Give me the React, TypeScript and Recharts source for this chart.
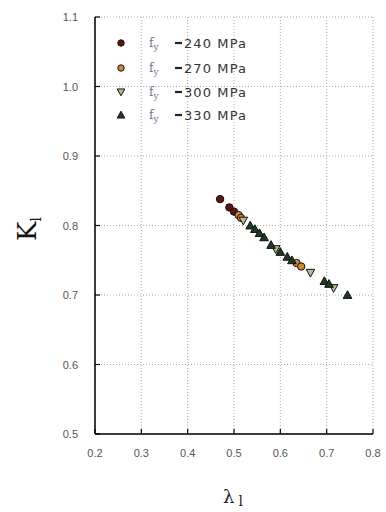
import React from "react";
import {
  CartesianGrid,
  Scatter,
  ScatterChart,
  XAxis,
  YAxis,
} from "recharts";

// slenderness λl vs. factor Kl, one list pair per steel grade
const lambda240 = [0.47, 0.49, 0.5];
const k240 = [0.838, 0.826, 0.82];
const lambda270 = [0.51, 0.515, 0.635, 0.645];
const k270 = [0.815, 0.811, 0.746, 0.741];
const lambda300 = [0.52, 0.59, 0.665, 0.715];
const k300 = [0.807, 0.766, 0.732, 0.71];
const lambda330 = [0.535, 0.545, 0.555, 0.565, 0.58, 0.6, 0.615, 0.625, 0.695, 0.705, 0.745];
const k330 = [0.8, 0.795, 0.789, 0.783, 0.772, 0.762, 0.755, 0.75, 0.72, 0.716, 0.7];

const xTicks = [0.2, 0.3, 0.4, 0.5, 0.6, 0.7, 0.8];
const yTicks = [0.5, 0.6, 0.7, 0.8, 0.9, 1.0, 1.1];
const grades = ["240", "270", "300", "330"];

const toPoints = (xs: number[], ys: number[]) => xs.map((x, i) => ({ x, y: ys[i] }));

type Kind = "circle" | "down" | "up";
const SERIES: { name: string; data: { x: number; y: number }[]; kind: Kind; fill: string }[] = [
  { name: grades[0], data: toPoints(lambda240, k240), kind: "circle", fill: "#5a1712" },
  { name: grades[1], data: toPoints(lambda270, k270), kind: "circle", fill: "#c98a42" },
  { name: grades[2], data: toPoints(lambda300, k300), kind: "down", fill: "#b9b98c" },
  { name: grades[3], data: toPoints(lambda330, k330), kind: "up", fill: "#1f3a22" },
];

// legend row positions (px) inside the plot frame
const legendRows = [43, 68, 92, 115];

function Marker({ cx, cy, kind, fill, r = 3.7 }: { cx: number; cy: number; kind: Kind; fill: string; r?: number }) {
  if (kind === "circle")
    return <circle cx={cx} cy={cy} r={r} fill={fill} stroke="#1a0a08" strokeWidth={1} />;
  const s = r + 0.6;
  const pts =
    kind === "up"
      ? `${cx},${cy - s} ${cx + s},${cy + s * 0.8} ${cx - s},${cy + s * 0.8}`
      : `${cx - s},${cy - s * 0.8} ${cx + s},${cy - s * 0.8} ${cx},${cy + s}`;
  return <polygon points={pts} fill={fill} stroke="#111" strokeWidth={1} />;
}

const sans = "Arial, 'Liberation Sans', sans-serif";
const tickFont = { fontFamily: sans, fontSize: 11, fill: "#555" };

function BottomTick({ x, y, payload }: any) {
  return (
    <g>
      <line x1={x} y1={y} x2={x} y2={y - 5} stroke="#000" strokeWidth={1.2} />
      <text x={x} y={y + 23} textAnchor="middle" {...tickFont}>
        {Number(payload.value).toFixed(1)}
      </text>
    </g>
  );
}

function TopTick({ x, y }: any) {
  return <line x1={x} y1={y} x2={x} y2={y + 5} stroke="#000" strokeWidth={1.2} />;
}

function LeftTick({ x, y, payload }: any) {
  return (
    <g>
      <line x1={x} y1={y} x2={x + 5} y2={y} stroke="#000" strokeWidth={1.2} />
      <text x={x - 17} y={y + 4} textAnchor="end" {...tickFont}>
        {Number(payload.value).toFixed(1)}
      </text>
    </g>
  );
}

function RightTick({ x, y }: any) {
  return <line x1={x} y1={y} x2={x - 5} y2={y} stroke="#000" strokeWidth={1.2} />;
}

export default function App() {
  return (
    <div style={{ position: "absolute", left: 0, top: 0, width: 386, height: 512, background: "#fff" }}>
      <ScatterChart width={386} height={512} margin={{ top: 17, right: 13, bottom: 48, left: 55 }}>
        <CartesianGrid stroke="#aaa" strokeDasharray="1 2" xAxisId="b" yAxisId="l" />
        <XAxis
          xAxisId="b"
          type="number"
          dataKey="x"
          domain={[0.2, 0.8]}
          ticks={xTicks}
          height={30}
          tickSize={0}
          tickMargin={0}
          tickLine={false}
          axisLine={{ stroke: "#000", strokeWidth: 1.5 }}
          tick={<BottomTick />}
          allowDataOverflow
        />
        <XAxis
          xAxisId="t"
          orientation="top"
          type="number"
          domain={[0.2, 0.8]}
          ticks={xTicks}
          height={0}
          tickSize={0}
          tickMargin={0}
          tickLine={false}
          axisLine={{ stroke: "#000", strokeWidth: 1.5 }}
          tick={<TopTick />}
        />
        <YAxis
          yAxisId="l"
          type="number"
          dataKey="y"
          domain={[0.5, 1.1]}
          ticks={yTicks}
          width={40}
          tickSize={0}
          tickMargin={0}
          tickLine={false}
          axisLine={{ stroke: "#000", strokeWidth: 1.5 }}
          tick={<LeftTick />}
          allowDataOverflow
        />
        <YAxis
          yAxisId="r"
          orientation="right"
          type="number"
          domain={[0.5, 1.1]}
          ticks={yTicks}
          width={0}
          tickSize={0}
          tickMargin={0}
          tickLine={false}
          axisLine={{ stroke: "#000", strokeWidth: 1.5 }}
          tick={<RightTick />}
        />
        {SERIES.map((s) => (
          <Scatter
            key={s.name}
            name={s.name}
            data={s.data}
            xAxisId="b"
            yAxisId="l"
            isAnimationActive={false}
            shape={(p: any) => <Marker cx={p.cx} cy={p.cy} kind={s.kind} fill={s.fill} />}
          />
        ))}
        <g>
          {SERIES.map((s, i) => {
            const y = legendRows[i];
            return (
              <g key={s.name}>
                <Marker cx={121} cy={y} kind={s.kind} fill={s.fill} r={3.2} />
                <text x={149} y={y + 4} fontFamily="'DejaVu Serif', serif" fontSize={12} fill="#6a7a90">
                  f<tspan fontSize={9} dy={3}>y</tspan>
                </text>
                <line x1={175} y1={y} x2={182} y2={y} stroke="#222" strokeWidth={2.2} />
                <text x={184} y={y + 4.5} fontFamily="'DejaVu Sans', sans-serif" fontSize={13} letterSpacing={1.1} fill="#333">
                  {s.name} MPa
                </text>
              </g>
            );
          })}
        </g>
        <text
          x={36}
          y={229}
          transform="rotate(-90 36 229)"
          textAnchor="middle"
          fontFamily="'DejaVu Serif', serif"
          fontSize={26}
          fill="#111"
        >
          K<tspan fontSize={14} dy={5}>l</tspan>
        </text>
        <text x={223} y={503} fontFamily="'DejaVu Serif', serif" fontSize={18} fill="#222">
          λ<tspan fontSize={14} dx={4} dy={3}>l</tspan>
        </text>
      </ScatterChart>
    </div>
  );
}
